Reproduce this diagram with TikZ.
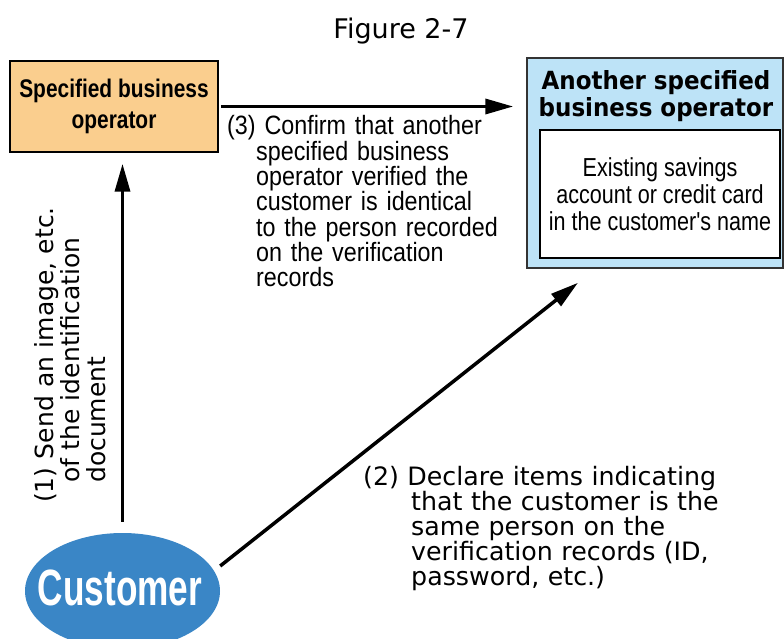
\documentclass[tikz,border=0pt]{standalone}
\usepackage{fontspec}
\setmainfont{DejaVu Sans}
\newfontfamily\widefont{DejaVu Sans}
\newfontfamily\titlefont[FakeStretch=0.92]{DejaVu Sans}
\newfontfamily\boxfont[FakeStretch=0.82]{Liberation Sans}
\newfontfamily\notefont[FakeStretch=0.88]{Liberation Sans}
\newfontfamily\acctfont[FakeStretch=0.83]{Liberation Sans}
\newfontfamily\custfont[FakeStretch=0.69]{Liberation Sans}
\usetikzlibrary{arrows.meta,shapes.geometric}
\definecolor{opfill}{RGB}{250,206,142}
\definecolor{otherfill}{RGB}{189,227,247}
\definecolor{custblue}{RGB}{58,134,198}
\begin{document}
\begin{tikzpicture}[x=1pt,y=-1pt,
  flow/.style={line width=3.5pt,-{Triangle[length=28pt,width=15pt]}},
  framed/.style={draw=black,line width=1.5pt,inner sep=0pt},
  note/.style={anchor=base west,inner sep=0pt,align=left}]
\useasboundingbox (0,0) rectangle (784,639);

% caption
\node[anchor=base,inner sep=0pt,font={\widefont\fontsize{27}{30}\selectfont}] (fig) at (401,39) {Figure 2-7};

% the operator that receives the customer
\node[framed,fill=opfill,minimum width=208pt,minimum height=91pt,align=center,
      font={\boxfont\bfseries\fontsize{25.5}{31}\selectfont}] (spec) at (114,106.5)
      {\raisebox{-2pt}{Specified business}\\\raisebox{-2pt}{operator}};

% the other operator and the account it already holds
\node[framed,draw=black!80,fill=otherfill,minimum width=256pt,minimum height=210pt] (another) at (655,163) {};
\node[inner sep=0pt,align=center,font={\titlefont\bfseries\fontsize{25}{27}\selectfont}] (anotherT) at (656,96)
      {Another specified\\business operator};
\node[framed,fill=white,minimum width=240pt,minimum height=128pt,align=center,
      font={\acctfont\fontsize{26}{27}\selectfont}] (acct) at (660,194)
      {Existing savings\\account or credit card\\in the customer{\char"27}s name};

% the customer
\node[ellipse,fill=custblue,minimum width=195pt,minimum height=116pt,inner sep=0pt] (cust) at (122.5,591) {};
\node[inner sep=0pt,text=white,font={\custfont\bfseries\fontsize{51}{51}\selectfont}] (custT) at (120,588) {Customer};

% flows
\draw[flow,shorten <=11pt,shorten >=11pt] (cust.north) -- (cust.north |- spec.south);
\draw[flow,shorten <=2pt,shorten >=13pt] (spec.east) -- (spec.east -| another.west);
\draw[flow] ([yshift=25pt]cust.east) -- ([xshift=-77pt,yshift=-14pt]another.south);

% step texts
\node[note,rotate=90,text width=310pt,font={\widefont\fontsize{25}{26}\selectfont}] (step1) at (53,503)
      {(1) Send an image, etc.\\\hspace*{20pt}of the identification\\\hspace*{20pt}document};
\node[note,text width=380pt,font={\widefont\fontsize{25.3}{25.2}\selectfont}] (step2) at (363,485)
      {(2) Declare items indicating\\\hspace*{48pt}that the customer is the\\\hspace*{48pt}same person on the\\\hspace*{48pt}verification records (ID,\\\hspace*{48pt}password, etc.)};
\node[note,text width=290pt,font={\notefont\fontsize{26.5}{25.3}\selectfont}] (step3) at (227,135)
      {(3) Confirm that another\\\hspace*{29pt}specified business\\\hspace*{29pt}operator verified the\\\hspace*{29pt}customer is identical\\\hspace*{29pt}to the person recorded\\\hspace*{29pt}on the verification\\\hspace*{29pt}records};
\end{tikzpicture}
\end{document}
